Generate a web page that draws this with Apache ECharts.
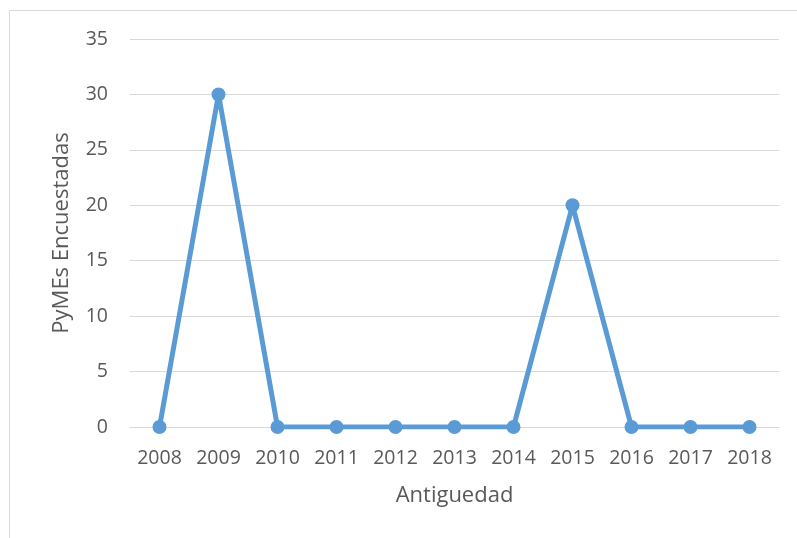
<!DOCTYPE html>
<html>
<head>
<meta charset="utf-8">
<script src="https://cdn.jsdelivr.net/npm/echarts@6/dist/echarts.min.js"></script>
<style>
  html, body { margin: 0; padding: 0; background: #fff; }
  #chart { width: 797px; height: 538px; }
</style>
</head>
<body>
<div id="chart"></div>
<script>
// data
const years = ['2008', '2009', '2010', '2011', '2012', '2013', '2014', '2015', '2016', '2017', '2018'];
const pymes = [0, 30, 0, 0, 0, 0, 0, 20, 0, 0, 0];

const textColor = '#595959';
const font = 'Open Sans';

const chart = echarts.init(document.getElementById('chart'));
chart.setOption({
  animation: false,
  graphic: [{
    type: 'rect',
    shape: { x: 9.5, y: 10.5, width: 900, height: 700 },
    style: { fill: 'none', stroke: '#d9d9d9', lineWidth: 1 },
    silent: true
  }],
  grid: { left: 130, right: 18, top: 39, bottom: 111 },
  xAxis: {
    type: 'category',
    data: years,
    boundaryGap: true,
    name: 'Antiguedad',
    nameLocation: 'middle',
    nameGap: 58,
    nameTextStyle: { color: textColor, fontSize: 22, fontFamily: font },
    axisLine: { show: true, lineStyle: { color: '#d9d9d9', width: 1 } },
    axisTick: { show: false },
    axisLabel: { color: textColor, fontSize: 19.5, fontFamily: font, margin: 21 }
  },
  yAxis: {
    type: 'value',
    min: 0,
    max: 35,
    interval: 5,
    name: 'PyMEs Encuestadas',
    nameLocation: 'middle',
    nameGap: 57,
    nameTextStyle: { color: textColor, fontSize: 22, fontFamily: font },
    axisLine: { show: false },
    axisTick: { show: false },
    axisLabel: { color: textColor, fontSize: 19.5, fontFamily: font, margin: 22 },
    splitLine: { lineStyle: { color: '#d9d9d9', width: 1 } }
  },
  series: [{
    type: 'line',
    data: pymes,
    symbol: 'circle',
    symbolSize: 14,
    lineStyle: { color: '#5b9bd5', width: 5 },
    itemStyle: { color: '#5b9bd5' }
  }]
});
</script>
</body>
</html>
